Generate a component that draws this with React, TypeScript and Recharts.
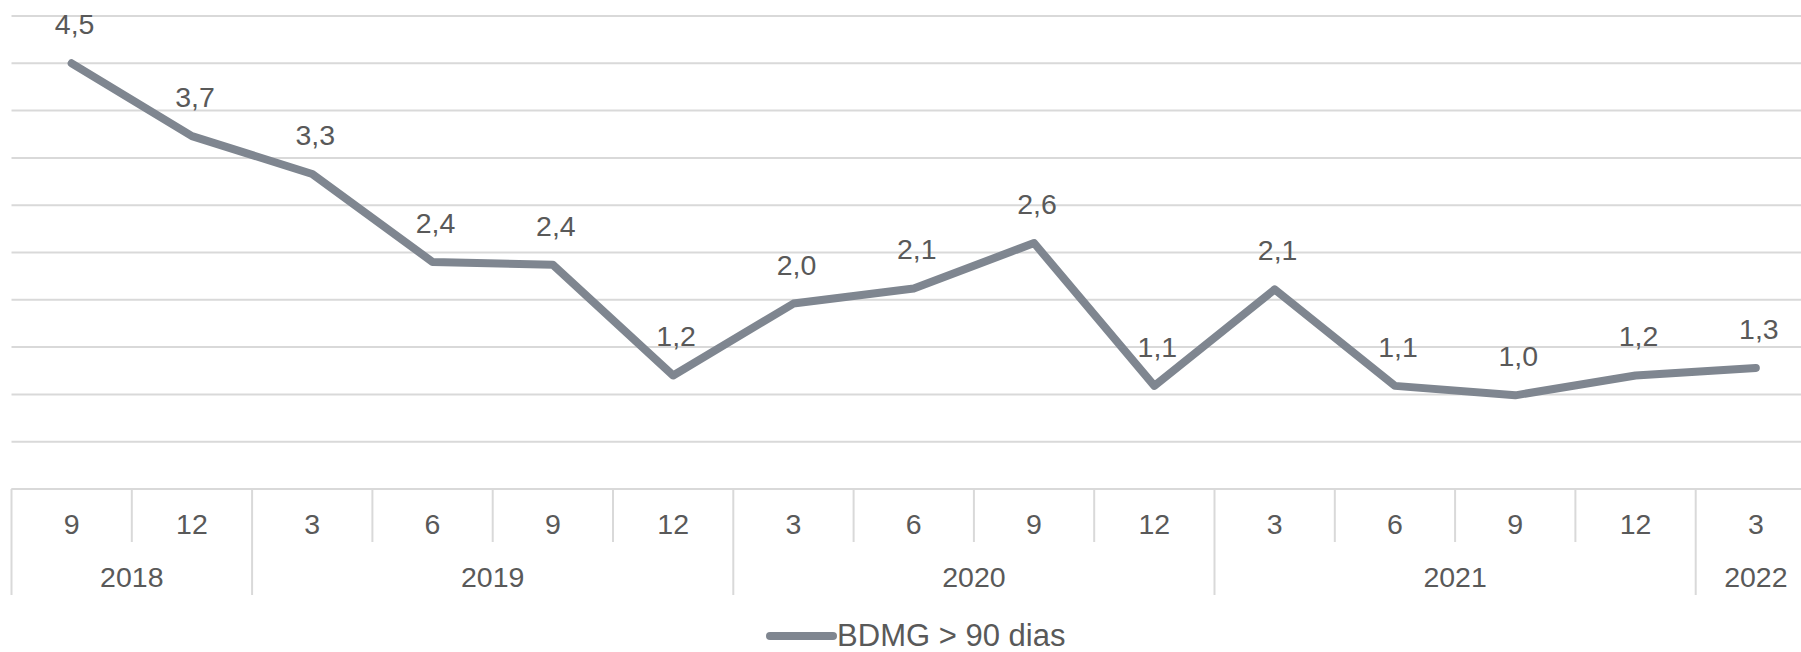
import React from 'react';
import { LineChart, Line, XAxis, YAxis, CartesianGrid, Legend, LabelList } from 'recharts';

const periods = ['2018-9', '2018-12', '2019-3', '2019-6', '2019-9', '2019-12', '2020-3', '2020-6', '2020-9', '2020-12', '2021-3', '2021-6', '2021-9', '2021-12', '2022-3'];
const months = ['9', '12', '3', '6', '9', '12', '3', '6', '9', '12', '3', '6', '9', '12', '3'];
const years = ['2018', '2018', '2019', '2019', '2019', '2019', '2020', '2020', '2020', '2020', '2021', '2021', '2021', '2021', '2022'];
const bdmg = [4.5, 3.73, 3.33, 2.4, 2.37, 1.2, 1.96, 2.12, 2.6, 1.09, 2.11, 1.09, 0.99, 1.2, 1.28];
const yTicks = [0, 0.5, 1, 1.5, 2, 2.5, 3, 3.5, 4, 4.5, 5];

const data = periods.map((p, i) => ({ period: p, value: bdmg[i] }));

const W = 120.3; // largura de cada categoria
const FONT = '"Liberation Sans", Arial, sans-serif';
const TEXT = '#595959';
const GRID = '#d9d9d9';
const LINE = '#7f8690';

const AxisTick = (props: any) => {
  const { x, y, index } = props;
  const startsYear = index === 0 || years[index] !== years[index - 1];
  const groupSize = years.filter((yr) => yr === years[index]).length;
  const left = x - W / 2;
  return (
    <g>
      <line x1={left} y1={y} x2={left} y2={y + (startsYear ? 106 : 53)} stroke={GRID} strokeWidth={2} />
      <text x={x} y={y + 35} textAnchor="middle" dominantBaseline="central" fill={TEXT} fontSize={28.5} fontFamily={FONT}>
        {months[index]}
      </text>
      {startsYear && (
        <text x={x + ((groupSize - 1) * W) / 2} y={y + 88} textAnchor="middle" dominantBaseline="central" fill={TEXT} fontSize={28.5} fontFamily={FONT}>
          {years[index]}
        </text>
      )}
    </g>
  );
};

const ValueLabel = (props: any) => {
  const { x, y, value } = props;
  return (
    <text x={x + 3} y={y - 39} textAnchor="middle" dominantBaseline="central" fill={TEXT} fontSize={28.5} fontFamily={FONT}>
      {Number(value).toFixed(1).replace('.', ',')}
    </text>
  );
};

const LegendContent = () => (
  <div style={{ display: 'flex', justifyContent: 'center', alignItems: 'center', height: 32, lineHeight: '32px', fontFamily: FONT, fontSize: 31, color: TEXT, paddingLeft: 4 }}>
    <svg width={71} height={12} style={{ overflow: 'visible' }}>
      <line x1={4} y1={6} x2={67} y2={6} stroke={LINE} strokeWidth={8} strokeLinecap="round" />
    </svg>
    <span>BDMG &gt; 90 dias</span>
  </div>
);

export default function App() {
  return (
    <div style={{ position: 'absolute', left: 0, top: 0, width: 1801, height: 652, overflow: 'hidden', background: '#fff' }}>
      <LineChart width={1820} height={652} data={data} margin={{ top: 16, right: 4, left: 11.5, bottom: 0 }}>
        <CartesianGrid horizontal vertical={false} stroke={GRID} strokeWidth={2} />
        <YAxis hide domain={[0, 5]} ticks={yTicks} />
        <XAxis
          dataKey="period"
          interval={0}
          padding={{ left: W / 2, right: W / 2 }}
          height={131}
          tickSize={0}
          tickMargin={0}
          tickLine={false}
          axisLine={{ stroke: GRID, strokeWidth: 2 }}
          tick={<AxisTick />}
        />
        <Legend verticalAlign="bottom" content={<LegendContent />} />
        <Line
          type="linear"
          dataKey="value"
          name="BDMG > 90 dias"
          stroke={LINE}
          strokeWidth={8}
          strokeLinecap="round"
          strokeLinejoin="round"
          dot={false}
          activeDot={false}
          isAnimationActive={false}
        >
          <LabelList dataKey="value" content={<ValueLabel />} />
        </Line>
      </LineChart>
    </div>
  );
}
